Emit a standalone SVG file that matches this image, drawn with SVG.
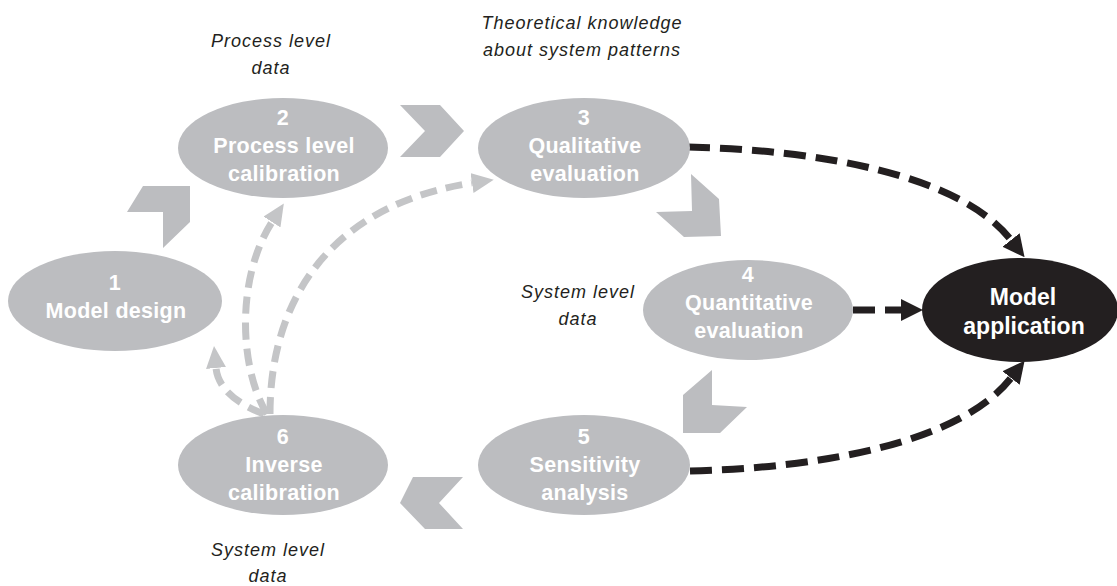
<svg xmlns="http://www.w3.org/2000/svg" width="1117" height="586" viewBox="0 0 1117 586">
<defs>
<style>
.node{fill:#BCBDC0}
.dark{fill:#231F20}
.lbl{font-family:"Liberation Sans",Arial,sans-serif;font-weight:bold;font-size:21.5px;fill:#fff;text-anchor:middle;letter-spacing:0.3px}
.app{font-size:23px;letter-spacing:0}
.note{font-family:"Liberation Sans",Arial,sans-serif;font-style:italic;font-size:18px;fill:#231F20;text-anchor:middle;letter-spacing:1px}
.chev{fill:#BCBDC0}
.gd{fill:none;stroke:#C4C5C7;stroke-width:7;stroke-dasharray:17 9}
.bd{fill:none;stroke:#231F20;stroke-width:7;stroke-dasharray:22 10}
</style>
<marker id="ga" markerUnits="userSpaceOnUse" markerWidth="22" markerHeight="20" refX="0" refY="10" orient="auto" viewBox="0 0 22 20">
<path d="M0,0 L22,10 L0,20 z" fill="#C4C5C7"/>
</marker>
<marker id="ba" markerUnits="userSpaceOnUse" markerWidth="22" markerHeight="22" refX="0" refY="11" orient="auto" viewBox="0 0 22 22">
<path d="M0,0 L22,11 L0,22 z" fill="#231F20"/>
</marker>
</defs>
<rect width="1117" height="586" fill="#fff"/>

<g id="chevrons">
<polygon class="chev" points="127,212 143,186 190,186 190,222 163,248 163,212"/>
<polygon class="chev" points="400,105 440,105 464,131 440,157 400,157 425,131"/>
<polygon class="chev" points="691,174 719,199 721,236 684,237 656,212 692,211"/>
<polygon class="chev" points="712,370 712,405 747,407 720,433 683,433 683,395"/>
<polygon class="chev" points="413,477 463,477 439,503 463,529 425,529 400,503"/>
</g>

<g id="connectors">
<path class="gd" d="M267,414 C240,370 235,280 272,222" marker-end="url(#ga)"/>
<path class="gd" d="M270,414 C270,300 330,205 472,183" marker-end="url(#ga)"/>
<path class="gd" d="M264,414 C240,405 218,390 216,368" marker-end="url(#ga)"/>
<path class="bd" d="M688,147 C820,150 960,175 1011,240" marker-end="url(#ba)"/>
<path class="bd" d="M853,310 L901,310" marker-end="url(#ba)"/>
<path class="bd" d="M690,471 C820,468 960,443 1011,378" marker-end="url(#ba)"/>
</g>

<g id="node1">
<ellipse class="node" cx="115" cy="301" rx="107" ry="50"/>
<text class="lbl" x="115" y="290">1</text>
<text class="lbl" x="116" y="318">Model design</text>
</g>
<g id="node2">
<ellipse class="node" cx="283" cy="148" rx="105" ry="50"/>
<text class="lbl" x="283" y="125">2</text>
<text class="lbl" x="284" y="153">Process level</text>
<text class="lbl" x="284" y="181">calibration</text>
</g>
<g id="node3">
<ellipse class="node" cx="584" cy="148" rx="106" ry="50"/>
<text class="lbl" x="584" y="125">3</text>
<text class="lbl" x="585" y="153">Qualitative</text>
<text class="lbl" x="585" y="181">evaluation</text>
</g>
<g id="node4">
<ellipse class="node" cx="748" cy="310" rx="105" ry="50"/>
<text class="lbl" x="748" y="282">4</text>
<text class="lbl" x="749" y="310">Quantitative</text>
<text class="lbl" x="749" y="338">evaluation</text>
</g>
<g id="node5">
<ellipse class="node" cx="584" cy="465" rx="106" ry="50"/>
<text class="lbl" x="584" y="444">5</text>
<text class="lbl" x="585" y="472">Sensitivity</text>
<text class="lbl" x="585" y="500">analysis</text>
</g>
<g id="node6">
<ellipse class="node" cx="283" cy="465" rx="105" ry="50"/>
<text class="lbl" x="283" y="444">6</text>
<text class="lbl" x="284" y="472">Inverse</text>
<text class="lbl" x="284" y="500">calibration</text>
</g>
<g id="nodeApp">
<ellipse class="dark" cx="1020" cy="310" rx="98" ry="52"/>
<text class="lbl app" x="1023" y="305">Model</text>
<text class="lbl app" x="1024" y="334">application</text>
</g>

<g id="notes">
<text class="note" x="271" y="47">Process level</text>
<text class="note" x="271" y="74">data</text>
<text class="note" x="582" y="29">Theoretical knowledge</text>
<text class="note" x="582" y="56">about system patterns</text>
<text class="note" x="578" y="298">System level</text>
<text class="note" x="578" y="325">data</text>
<text class="note" x="268" y="556">System level</text>
<text class="note" x="268" y="582">data</text>
</g>
</svg>
